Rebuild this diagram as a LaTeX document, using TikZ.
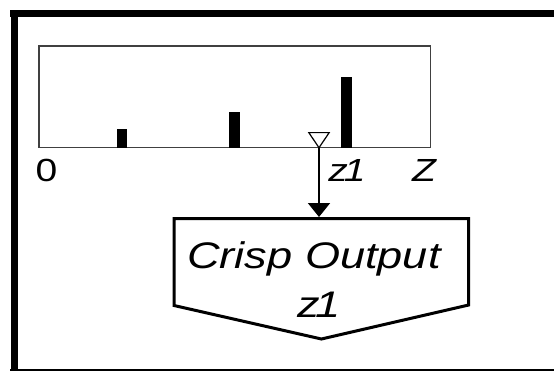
\documentclass[tikz,border=0pt]{standalone}
\usepackage{fontspec}
\setmainfont{Liberation Sans}
\usetikzlibrary{arrows.meta}
\tikzset{
  defuzz sheet/.style={
    x=1pt,
    y=-1pt,
    line join=miter
  },
  defuzz frame/.style={
    fill=black
  },
  defuzz axis/.style={
    draw=black!75,
    line width=1.3pt
  },
  defuzz bar/.style={
    fill=black
  },
  defuzz tick/.style={
    font=\fontsize{32}{36}\selectfont,
    xscale=1.22,
    inner sep=0pt,
    anchor=base
  },
  defuzz text/.style={
    font=\fontsize{37}{44}\selectfont\itshape,
    xscale=1.22,
    inner sep=0pt,
    anchor=base
  },
  defuzz out/.style={
    draw=black,
    line width=3pt
  },
  defuzz arrow/.style={
    line width=2pt,
    -{Triangle[length=14pt,width=22pt]}
  }
}

\begin{document}
\begin{tikzpicture}[defuzz sheet]
  \useasboundingbox (0,0) rectangle (554,372);

  % frame
  \fill[defuzz frame] (10,10) rectangle (554,17.3);
  \fill[defuzz frame] (10.6,10) rectangle (18.4,371);
  \fill[defuzz frame] (10,369) rectangle (554,371);

  % aggregated output
  \draw[defuzz axis] (38.9,46) rectangle (430.5,147.7);
  \foreach \bx/\btop in {122/128.7, 234.6/112, 346.4/76.7}
    \fill[defuzz bar] (\bx-5.2,\btop) rectangle (\bx+5.2,147.7);

  \node[defuzz tick] (zero) at (46.5,181.5) {0};
  \node[defuzz tick,font=\fontsize{32}{36}\selectfont\itshape] (zone) at (347,181.5) {z\kern-0.1em 1};
  \node[defuzz tick,font=\fontsize{32}{36}\selectfont\itshape] (zmax) at (424,181.5) {Z};

  % defuzzified point
  \coordinate (mark) at (319,147.7);
  \draw[fill=white,line width=1.2pt] (mark) -- (308.8,132.6) -- (329.2,132.6) -- cycle;

  % crisp output box
  \draw[defuzz out] (174,218.5) -- (468.7,218.5) -- (468.7,305)
                    -- (321.4,339) -- (174,305.5) -- cycle;
  \coordinate (outtop) at (319,217);
  \draw[defuzz arrow] (mark) -- (outtop);

  \node[defuzz text] (crisp) at (314,268) {Crisp Output};
  \node[defuzz text] (crispval) at (319,317) {z\kern-0.1em 1};

\end{tikzpicture}
\end{document}
